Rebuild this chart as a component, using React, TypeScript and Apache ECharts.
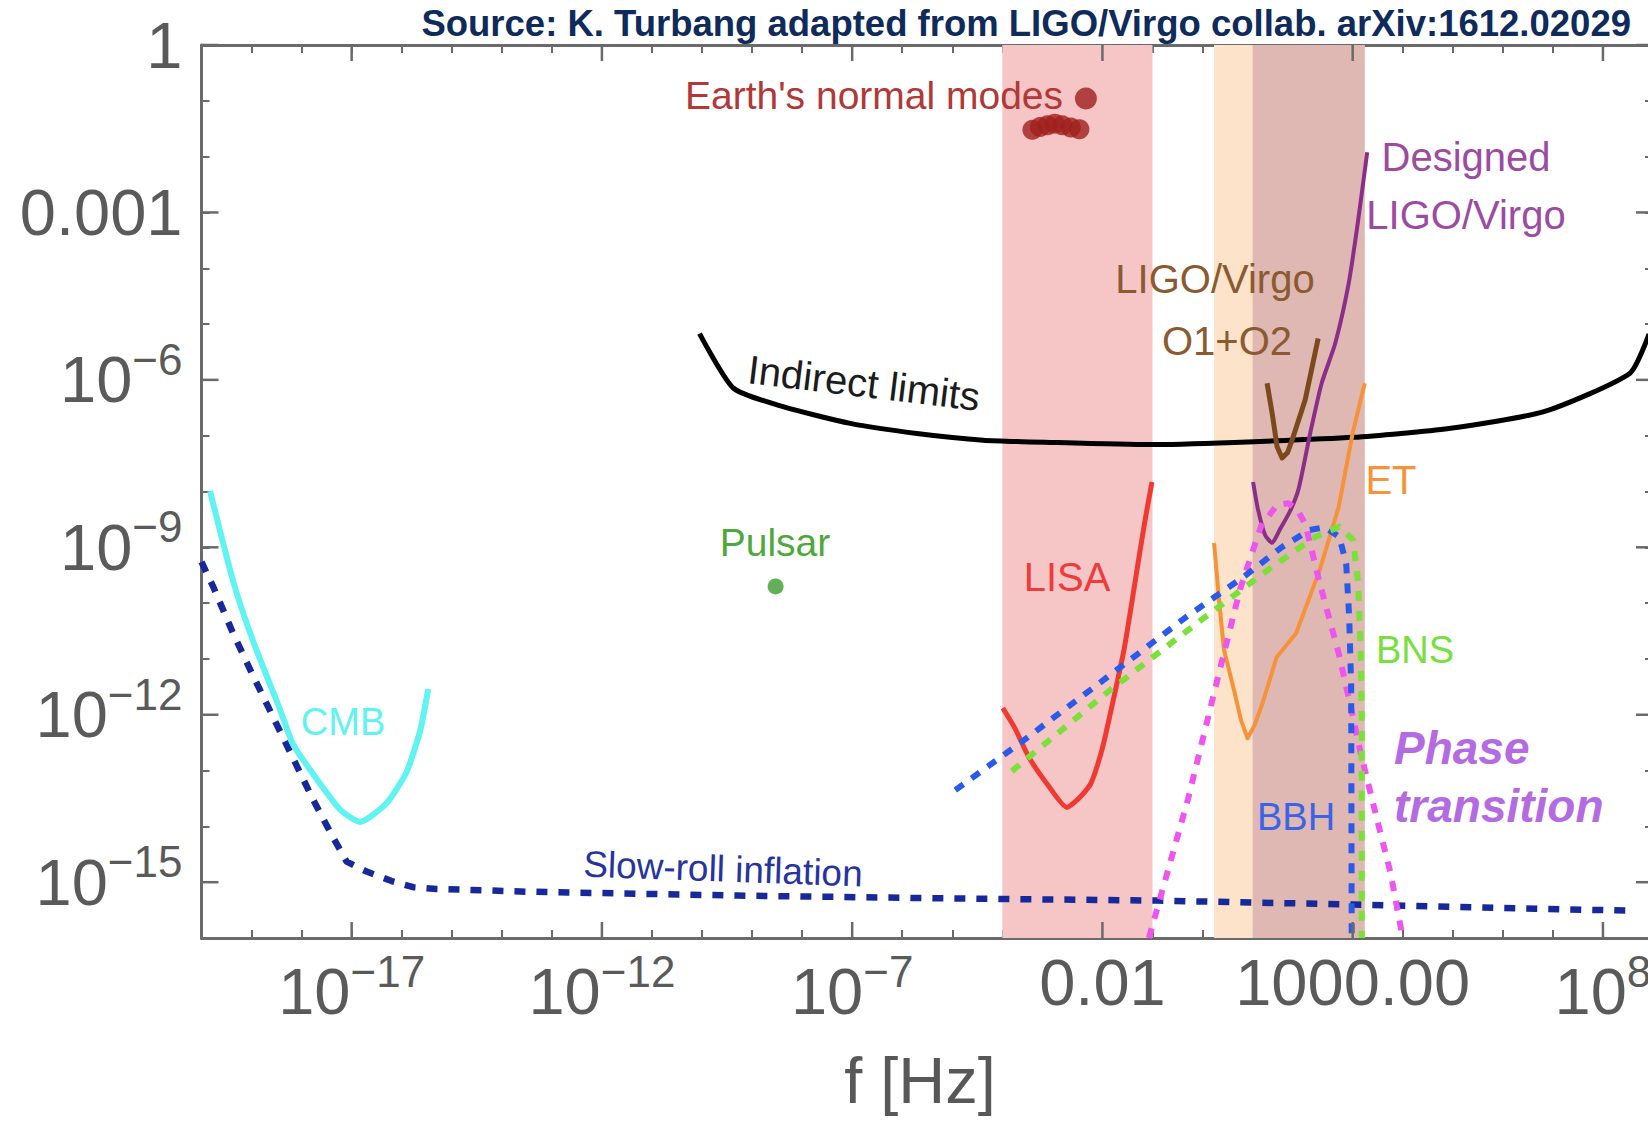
import React, { useEffect, useRef } from 'react';
import * as echarts from 'echarts';

// All values are log10: x = log10(f [Hz]), y = log10(h^2 Omega_GW)
const X_MIN = -20;
const X_MAX = 9;
const Y_MIN = -16;
const Y_MAX = 0;

const xTickExps = [-17, -12, -7, -2, 3, 8];
const xTickLabels = ['{b|10}{s|−17}', '{b|10}{s|−12}', '{b|10}{s|−7}', '{p|0.01}', '{p|1000.00}', '{b|10}{s|8}'];
const yTickExps = [0, -3, -6, -9, -12, -15];
const yTickLabels = ['{p|1}', '{p|0.001}', '{b|10}{s|−6}', '{b|10}{s|−9}', '{b|10}{s|−12}', '{b|10}{s|−15}'];

// detector frequency bands [from, to]
const bandRanges = [
  [-4, -1],
  [0.23, 3.24],
  [1.0, 3.24],
];

const cmbCurve = [
  [-19.83, -7.99], [-19.36, -9.63], [-18.97, -10.68], [-18.43, -11.91], [-18.17, -12.53],
  [-17.7, -13.15], [-17.23, -13.7], [-16.83, -13.92], [-16.3, -13.58], [-15.9, -13.02],
  [-15.63, -12.28], [-15.47, -11.54],
];

const slowRollCurve = [
  [-20.0, -9.26], [-19.76, -9.72], [-19.36, -10.56], [-18.97, -11.3], [-18.57, -12.04],
  [-18.17, -12.78], [-17.77, -13.52], [-17.37, -14.2], [-17.1, -14.63], [-16.7, -14.81],
  [-16.2, -14.98], [-15.77, -15.09], [-15.3, -15.12], [-13.5, -15.17], [-9.3, -15.24],
  [-5.1, -15.29], [-0.9, -15.33], [3.0, -15.4], [5.4, -15.45], [8.5, -15.51],
];

const pulsarPoint = [[-8.53, -9.7]];

const earthModesPoints = [
  [-3.4, -1.52], [-3.25, -1.47], [-3.1, -1.44], [-2.95, -1.41], [-2.8, -1.44], [-2.63, -1.48], [-2.46, -1.51],
];
const earthModeTop = [[-2.33, -0.96]];

const indirectCurve = [
  [-10.05, -5.17], [-9.37, -6.15], [-8.38, -6.48], [-7.04, -6.78], [-5.71, -6.96], [-4.38, -7.08],
  [-3.05, -7.12], [-1.05, -7.16], [0.63, -7.12], [3.01, -7.03], [4.92, -6.87], [6.82, -6.57],
  [8.54, -5.88], [8.92, -5.18],
];

const lisaCurve = [
  [-3.99, -11.88], [-3.75, -12.24], [-3.47, -12.76], [-3.09, -13.26], [-2.71, -13.66], [-2.45, -13.48],
  [-2.23, -13.23], [-2.01, -12.63], [-1.85, -12.01], [-1.57, -10.84], [-1.39, -9.86], [-1.27, -9.18],
  [-1.13, -8.42], [-1.01, -7.83],
];

const etCurve = [
  [0.23, -8.92], [0.33, -9.95], [0.43, -10.84], [0.63, -11.56], [0.77, -12.1], [0.9, -12.42],
  [1.04, -12.19], [1.2, -11.79], [1.48, -10.97], [1.87, -10.54], [2.34, -9.41], [2.72, -8.28],
  [3.0, -6.95], [3.24, -6.06],
];

const o1o2Curve = [
  [1.29, -6.06], [1.4, -6.65], [1.49, -7.2], [1.59, -7.4], [1.7, -7.3], [1.8, -7.05], [2.05, -6.36], [2.31, -5.26],
];

const designedCurve = [
  [1.01, -7.83], [1.11, -8.33], [1.25, -8.78], [1.39, -8.92], [1.54, -8.69], [1.75, -8.35],
  [1.92, -7.95], [2.15, -6.96], [2.38, -6.06], [2.65, -5.35], [2.92, -4.27], [3.1, -3.2], [3.29, -1.92],
];

const phaseCurve = [
  [-1.07, -16.0], [-0.29, -13.51], [0.33, -11.25], [0.75, -9.75], [1.17, -8.62], [1.49, -8.24],
  [1.71, -8.21], [1.9, -8.33], [2.06, -8.6], [2.34, -9.64], [2.72, -10.9], [2.96, -11.85],
  [3.15, -12.65], [3.48, -13.85], [3.76, -14.85], [4.0, -16.0],
];

const bbhCurve = [
  [-4.94, -13.35], [-3.65, -12.51], [-1.85, -11.29], [-0.33, -10.25], [0.82, -9.53], [1.58, -9.0],
  [2.14, -8.69], [2.44, -8.64], [2.73, -8.81], [2.87, -9.29], [2.93, -10.25], [2.97, -11.5], [2.98, -16.0],
];

const bnsCurve = [
  [-3.81, -13.01], [-1.85, -11.56], [0.05, -10.25], [1.39, -9.35], [2.24, -8.82], [2.73, -8.63],
  [3.01, -8.87], [3.11, -9.65], [3.16, -10.84], [3.18, -12.0], [3.18, -16.0],
];

const FONT = '"Liberation Sans", Arial, Helvetica, sans-serif';
const AXIS = '#6a6a6a';
const LABEL = '#5a5a5a';
const bandColors = ['#f6c6c6', '#fce3ca', '#dfb7b3'];

function App() {
  const ref = useRef<HTMLDivElement>(null);

  useEffect(() => {
    document.body.style.margin = '0';
    if (!ref.current) return;
    const chart = echarts.init(ref.current, undefined, { renderer: 'svg' });

    const fmt = (exps: number[], labels: string[]) => (v: number) => {
      const i = exps.indexOf(Math.round(v));
      return i >= 0 ? labels[i] : '';
    };

    const xRich = {
      b: { fontSize: 65, lineHeight: 65, color: LABEL, fontFamily: FONT },
      s: { fontSize: 44, height: 24, lineHeight: 24, verticalAlign: 'top', color: LABEL, fontFamily: FONT },
      p: { fontSize: 65, lineHeight: 47, color: LABEL, fontFamily: FONT },
    };
    const yRich = {
      b: { fontSize: 65, lineHeight: 65, color: LABEL, fontFamily: FONT },
      s: { fontSize: 44, height: 24, lineHeight: 24, verticalAlign: 'top', color: LABEL, fontFamily: FONT },
      p: { fontSize: 65, lineHeight: 65, color: LABEL, fontFamily: FONT },
    };

    const axisBase = {
      type: 'value',
      interval: 1,
      axisLine: { show: true, onZero: false, lineStyle: { color: AXIS, width: 3 } },
      axisTick: { show: true, inside: true, length: 8, lineStyle: { color: AXIS, width: 2 } },
      splitLine: { show: false },
    };

    const line = (name: string, data: number[][], color: string, width: number, dash?: number[], smooth = 0) => ({
      name,
      type: 'line',
      data,
      symbol: 'none',
      showSymbol: false,
      silent: true,
      smooth,
      z: 3,
      lineStyle: { color, width, type: dash ? dash : 'solid', cap: 'butt', join: 'round' },
    });

    const txt = (text: string, x: number, y: number, size: number, color: string, extra: any = {}, rotation = 0) => ({
      type: 'text',
      x,
      y,
      rotation,
      silent: true,
      z: 50,
      style: {
        text,
        x: 0,
        y: 0,
        fill: color,
        fontSize: size,
        fontFamily: FONT,
        align: 'center',
        textAlign: 'center',
        verticalAlign: 'middle',
        textVerticalAlign: 'middle',
        ...extra,
      },
    });

    const option: any = {
      animation: false,
      backgroundColor: '#ffffff',
      grid: { left: 201.5, top: 45, width: 1451.5, height: 893, containLabel: false, outerBoundsMode: 'none' },
      xAxis: [
        {
          ...axisBase,
          min: X_MIN,
          max: X_MAX,
          position: 'bottom',
          axisLabel: {
            show: true,
            margin: 21,
            showMinLabel: true,
            showMaxLabel: true,
            formatter: fmt(xTickExps, xTickLabels),
            rich: xRich,
          },
        },
        {
          ...axisBase,
          min: X_MIN,
          max: X_MAX,
          position: 'top',
          axisLabel: { show: false },
        },
      ],
      yAxis: [
        {
          ...axisBase,
          min: Y_MIN,
          max: Y_MAX,
          position: 'left',
          axisLabel: {
            show: true,
            margin: 19,
            showMinLabel: true,
            showMaxLabel: true,
            formatter: fmt(yTickExps, yTickLabels),
            rich: yRich,
          },
        },
        {
          ...axisBase,
          min: Y_MIN,
          max: Y_MAX,
          position: 'right',
          axisLabel: { show: false },
        },
      ],
      series: [
        {
          type: 'custom',
          name: 'bands',
          silent: true,
          z: 1,
          data: bandRanges.map((r, i) => [r[0], r[1], i]),
          renderItem: (params: any, api: any) => {
            const p0 = api.coord([api.value(0), Y_MAX]);
            const p1 = api.coord([api.value(1), Y_MIN]);
            return {
              type: 'rect',
              shape: { x: p0[0], y: p0[1], width: p1[0] - p0[0], height: p1[1] - p0[1] },
              style: { fill: bandColors[api.value(2)] },
            };
          },
        },
        line('Slow-roll inflation', slowRollCurve, '#17289a', 6.5, [11, 11]),
        line('CMB', cmbCurve, '#5ff3f3', 6, undefined, 0.2),
        line('Indirect limits', indirectCurve, '#000000', 5, undefined, 0.2),
        line('LISA', lisaCurve, '#ee3a30', 5, undefined, 0.2),
        line('ET', etCurve, '#f5923a', 4),
        line('LIGO/Virgo O1+O2', o1o2Curve, '#7b4a1c', 5),
        line('Designed LIGO/Virgo', designedCurve, '#8a2e8a', 4, undefined, 0.2),
        line('Phase transition', phaseCurve, '#ee55ee', 6, [10, 10]),
        line('BBH', bbhCurve, '#2a5ae8', 6, [10, 10]),
        line('BNS', bnsCurve, '#7ae03a', 6, [10, 10]),
        {
          type: 'scatter',
          name: 'Pulsar',
          data: pulsarPoint,
          symbolSize: 16,
          silent: true,
          z: 4,
          itemStyle: { color: '#3c9a2c' },
        },
        {
          type: 'scatter',
          name: "Earth's normal modes",
          data: earthModesPoints,
          symbolSize: 20,
          silent: true,
          z: 4,
          itemStyle: { color: '#a01f1d' },
        },
        {
          type: 'scatter',
          name: "Earth's normal modes top",
          data: earthModeTop,
          symbolSize: 22,
          silent: true,
          z: 4,
          itemStyle: { color: '#a01f1d' },
        },
        {
          type: 'custom',
          name: 'major x ticks',
          silent: true,
          z: 10,
          data: xTickExps.map((e) => [e, Y_MIN]),
          renderItem: (params: any, api: any) => {
            const b = api.coord([api.value(0), Y_MIN]);
            const t = api.coord([api.value(0), Y_MAX]);
            const st = { stroke: AXIS, lineWidth: 2.5 };
            return {
              type: 'group',
              children: [
                { type: 'line', shape: { x1: b[0], y1: b[1], x2: b[0], y2: b[1] - 16 }, style: st },
                { type: 'line', shape: { x1: t[0], y1: t[1], x2: t[0], y2: t[1] + 16 }, style: st },
              ],
            };
          },
        },
        {
          type: 'custom',
          name: 'major y ticks',
          silent: true,
          z: 10,
          data: yTickExps.map((e) => [X_MIN, e]),
          renderItem: (params: any, api: any) => {
            const l = api.coord([X_MIN, api.value(1)]);
            const r = api.coord([X_MAX, api.value(1)]);
            const st = { stroke: AXIS, lineWidth: 2.5 };
            return {
              type: 'group',
              children: [
                { type: 'line', shape: { x1: l[0], y1: l[1], x2: l[0] + 17, y2: l[1] }, style: st },
                { type: 'line', shape: { x1: r[0], y1: r[1], x2: r[0] - 17, y2: r[1] }, style: st },
              ],
            };
          },
        },
      ],
      graphic: [
        txt('Source: K. Turbang adapted from LIGO/Virgo collab. arXiv:1612.02029', 1631, 23, 36.5, '#0f2b5b', {
          fontWeight: 'bold',
          align: 'right',
          textAlign: 'right',
        }),
        txt('f [Hz]', 920, 1080, 65, '#585858'),
        txt("Earth's normal modes", 874, 95, 39, '#b23838'),
        txt('Designed\nLIGO/Virgo', 1466, 186, 40, '#9c4aa2', { lineHeight: 58 }),
        txt('LIGO/Virgo', 1215, 279, 40, '#8a5a30'),
        txt('O1+O2', 1227, 341, 40, '#8a5a30'),
        txt('Indirect limits', 864, 383, 40, '#1c1c1c', {}, -0.12),
        txt('Slow-roll inflation', 723, 869, 37, '#25349e', {}, -0.035),
        txt('CMB', 343, 722, 38, '#5ff3f3'),
        txt('Pulsar', 775, 542, 39, '#4fa83c'),
        txt('LISA', 1067, 577, 40, '#ee3b3b'),
        txt('ET', 1391, 480, 40, '#f5923a'),
        txt('BNS', 1415, 650, 38, '#78e03c'),
        txt('BBH', 1296, 817, 38, '#3a64e6'),
        txt('Phase\ntransition', 1394, 777, 46, '#b46be2', {
          fontWeight: 'bold',
          fontStyle: 'italic',
          lineHeight: 58,
          align: 'left',
          textAlign: 'left',
        }),
      ],
    };

    chart.setOption(option);
    return () => chart.dispose();
  }, []);

  return <div ref={ref} style={{ position: 'absolute', left: 0, top: 0, width: 1648, height: 1122 }} />;
}

export default App;
